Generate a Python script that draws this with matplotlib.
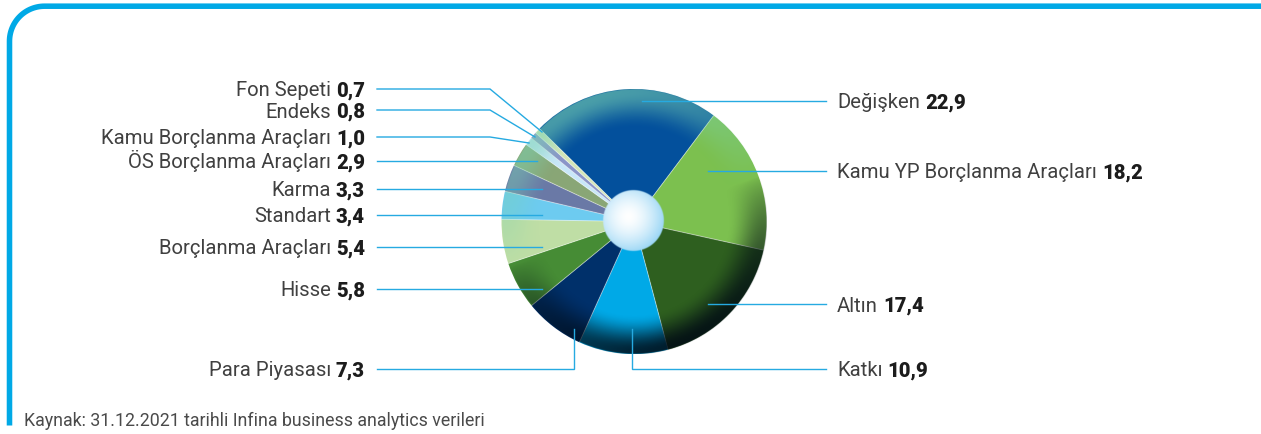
import numpy as np
import matplotlib
matplotlib.use('Agg')
import matplotlib.pyplot as plt

# ---------------- data ----------------
categories = ['Değişken', 'Kamu YP Borçlanma Araçları', 'Altın', 'Katkı',
              'Para Piyasası', 'Hisse', 'Borçlanma Araçları', 'Standart',
              'Karma', 'ÖS Borçlanma Araçları', 'Kamu Borçlanma Araçları',
              'Endeks', 'Fon Sepeti']
values = [22.9, 18.2, 17.4, 10.9, 7.3, 5.8, 5.4, 3.4, 3.3, 2.9, 1.0, 0.8, 0.7]
value_labels = ['22,9', '18,2', '17,4', '10,9', '7,3', '5,8', '5,4', '3,4',
                '3,3', '2,9', '1,0', '0,8', '0,7']
colors = ['#03509c', '#7cc04f', '#2e5f1f', '#00a9e7', '#00306a', '#468c35',
          '#bfdea5', '#6dcbf0', '#6a79a6', '#89a676', '#c8e7f8', '#8a95c8',
          '#d3e6b8']
source_text = 'Kaynak: 31.12.2021 tarihli Infina business analytics verileri'

# ---------------- layout ----------------
W, H = 1261, 434
cx, cy, R = 634.0, 221.5, 132.5
hole_c = (633.0, 221.0)
hole_r = 30.5
LINE_C = '#26aae1'
FRAME_C = '#00a9e6'
LEFT_X = 365
RIGHT_X = 837
# leader paths (pixel coords, y downwards), keyed by category
leaders = {
    'Fon Sepeti': [(377, 89), (490, 89), (542, 132)],
    'Endeks': [(377, 110), (490, 110), (535, 137)],
    'Kamu Borçlanma Araçları': [(377, 137), (490, 137), (529, 143)],
    'ÖS Borçlanma Araçları': [(377, 161), (537, 161)],
    'Karma': [(377, 189), (542, 189)],
    'Standart': [(377, 215), (542, 215)],
    'Borçlanma Araçları': [(377, 247), (542, 247)],
    'Hisse': [(377, 289), (542, 289)],
    'Para Piyasası': [(377, 369), (574, 369), (574, 329)],
    'Değişken': [(826, 101), (642, 101)],
    'Kamu YP Borçlanma Araçları': [(826, 171), (708, 171)],
    'Altın': [(826, 304), (708, 304)],
    'Katkı': [(826, 369), (632, 369), (632, 329)],
}
right_side = ['Değişken', 'Kamu YP Borçlanma Araçları', 'Altın', 'Katkı']

plt.rcParams['font.family'] = ['Roboto', 'DejaVu Sans']

fig = plt.figure(figsize=(W / 100, H / 100), dpi=100)
ax = fig.add_axes([0, 0, 1, 1])

# ---------------- pie ----------------
# y axis is inverted (pixel coords), so counterclock=True in data = clockwise on screen
wedges, _ = ax.pie(values, colors=colors, startangle=-135.5, counterclock=True,
                   center=(cx, cy), radius=R, frame=True,
                   wedgeprops=dict(linewidth=0, antialiased=True))
for w in wedges:
    w.set_zorder(1)

# separators between wedges
for w in wedges:
    th = np.radians(w.theta1)
    ax.plot([cx, cx + R * np.cos(th)], [cy, cy + R * np.sin(th)],
            color=(1, 1, 1, 0.45), lw=0.7, zorder=1.5, solid_capstyle='butt')

# rim shading overlay
n = 700
xs = np.linspace(cx - R, cx + R, n)
ys = np.linspace(cy - R, cy + R, n)
X, Y = np.meshgrid(xs, ys)
dx = X - cx
dy = cy - Y
dist = np.hypot(dx, dy)
r = dist / R
th = np.arctan2(dy, dx)
c = np.cos(th - np.radians(110))
t = np.clip((r - 0.70) / 0.28, 0, 1)
rim = t * t * (3 - 2 * t)
light = np.clip(c, 0, 1) ** 0.8 * rim * 0.6
dark = np.clip(-c, 0, 1) ** 0.7 * rim * 0.88
mask = np.clip((R - dist) + 0.5, 0, 1)
rgba = np.zeros((n, n, 4))
hl = np.array([0.48, 0.83, 0.70])
dk = np.array([0.0, 0.04, 0.08])
pos = c > 0
for k in range(3):
    rgba[..., k] = np.where(pos, hl[k], dk[k])
rgba[..., 3] = np.where(pos, light, dark) * mask
ax.imshow(rgba, extent=(cx - R, cx + R, cy + R, cy - R), origin='upper',
          interpolation='bilinear', zorder=2)

# centre sphere
m = 300
hx, hy = hole_c
xs2 = np.linspace(hx - hole_r - 1, hx + hole_r + 1, m)
ys2 = np.linspace(hy - hole_r - 1, hy + hole_r + 1, m)
X2, Y2 = np.meshgrid(xs2, ys2)
d2 = np.hypot(X2 - hx, Y2 - hy)
dh = np.hypot(X2 - (hx - 5), Y2 - (hy - 4))
tt = np.clip(dh / (hole_r * 1.25), 0, 1) ** 1.6
edge = np.array([0.58, 0.83, 0.96])
sph = np.zeros((m, m, 4))
for k in range(3):
    sph[..., k] = (1 - tt) * 1.0 + tt * edge[k]
sph[..., 3] = np.clip((hole_r - d2) + 0.5, 0, 1)
ax.imshow(sph, extent=(hx - hole_r - 1, hx + hole_r + 1, hy + hole_r + 1, hy - hole_r - 1),
          origin='upper', interpolation='bilinear', zorder=3)

# ---------------- leader lines ----------------
for name, pts in leaders.items():
    px, py = zip(*pts)
    ax.plot(px, py, color=LINE_C, lw=1.0, zorder=4, solid_joinstyle='miter')

# ---------------- frame ----------------
fx, fy, rad = 9.5, 6.2, 35.0
ang = np.linspace(np.pi, np.pi / 2, 30)
arc_x = fx + rad + rad * np.cos(ang)
arc_y = fy + rad - rad * np.sin(ang)
frame_x = np.concatenate([[fx], arc_x, [W + 5]])
frame_y = np.concatenate([[425.5], arc_y, [fy]])
ax.plot(frame_x, frame_y, color=FRAME_C, lw=4.0, solid_capstyle='butt', zorder=5)

ax.set_xlim(0, W)
ax.set_ylim(H, 0)
ax.set_aspect('auto')
ax.axis('off')

# ---------------- labels ----------------
FS = 14.6
NAME_C = '#404040'
NUM_C = '#1c1c1c'
fig.canvas.draw()
renderer = fig.canvas.get_renderer()
GAP = 5
BASE = 7.5
for cat, val in zip(categories, value_labels):
    pts = leaders[cat]
    y = pts[0][1] + BASE
    if cat in right_side:
        tn = ax.text(RIGHT_X, y, cat, ha='left', va='baseline', fontsize=FS,
                     color=NAME_C, zorder=6)
        bb = tn.get_window_extent(renderer)
        ax.text(RIGHT_X + bb.width + GAP, y, val, ha='left', va='baseline',
                fontsize=FS, fontweight='black', color=NUM_C, zorder=6)
    else:
        tv = ax.text(LEFT_X, y, val, ha='right', va='baseline', fontsize=FS,
                     fontweight='black', color=NUM_C, zorder=6)
        bb = tv.get_window_extent(renderer)
        ax.text(LEFT_X - bb.width - GAP, y, cat, ha='right', va='baseline',
                fontsize=FS, color=NAME_C, zorder=6)

ax.text(24, 426, source_text, ha='left', va='baseline', fontsize=12.8,
        color='#4a4a4a', zorder=6)

fig.savefig('out.png', dpi=100)
